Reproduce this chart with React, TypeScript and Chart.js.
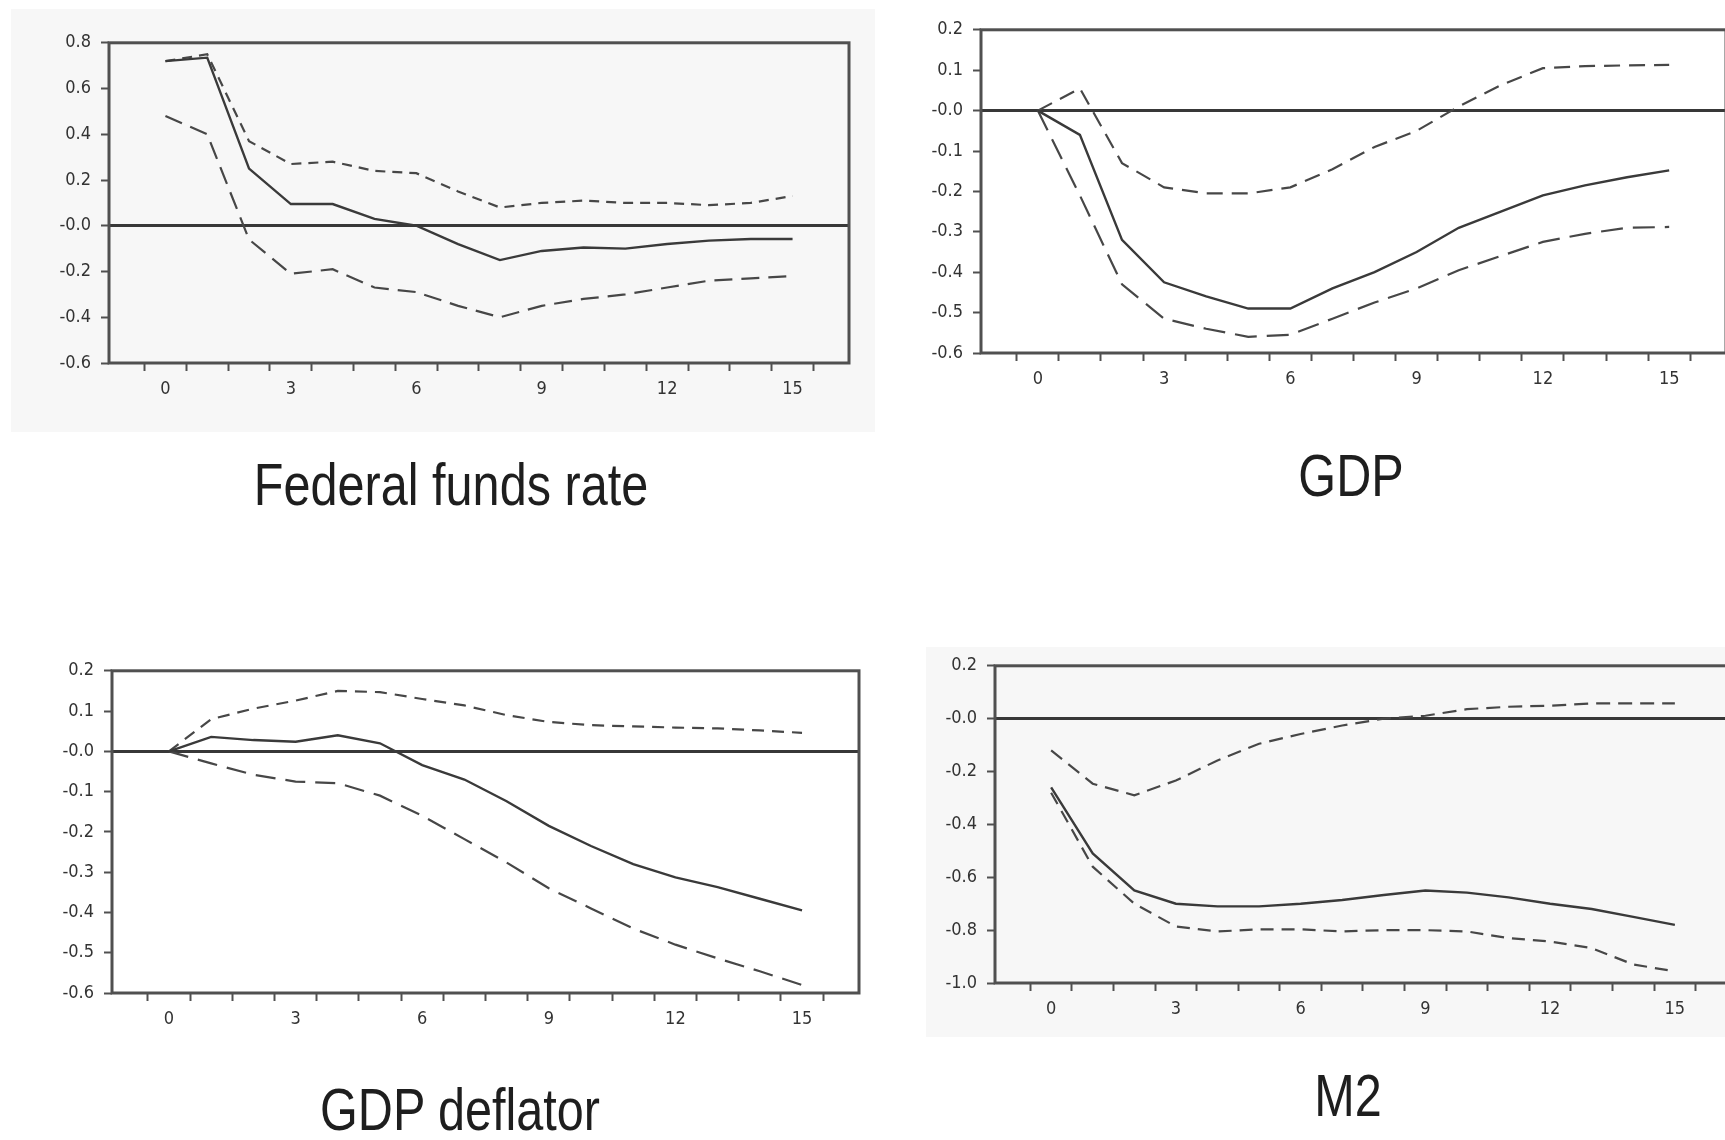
import React, { useEffect, useRef } from "react";
import { Chart, registerables } from "chart.js";

Chart.register(...registerables);

// ---------- data ----------
const periods = [0, 1, 2, 3, 4, 5, 6, 7, 8, 9, 10, 11, 12, 13, 14, 15];
const xLabelValues = [0, 3, 6, 9, 12, 15];

const fedResponse = [0.72, 0.735, 0.25, 0.095, 0.095, 0.03, 0.0, -0.08, -0.15, -0.11, -0.095, -0.1, -0.08, -0.065, -0.058, -0.058];
const fedUpper = [0.72, 0.75, 0.37, 0.27, 0.28, 0.24, 0.23, 0.15, 0.08, 0.1, 0.11, 0.1, 0.1, 0.09, 0.1, 0.13];
const fedLower = [0.48, 0.4, -0.06, -0.21, -0.19, -0.27, -0.29, -0.35, -0.4, -0.35, -0.32, -0.3, -0.27, -0.24, -0.23, -0.22];

const gdpResponse = [0, -0.06, -0.32, -0.425, -0.46, -0.49, -0.49, -0.44, -0.4, -0.35, -0.29, -0.25, -0.21, -0.185, -0.165, -0.148];
const gdpUpper = [0, 0.055, -0.13, -0.19, -0.205, -0.205, -0.19, -0.145, -0.09, -0.05, 0.01, 0.063, 0.105, 0.11, 0.112, 0.113];
const gdpLower = [0, -0.21, -0.43, -0.515, -0.54, -0.56, -0.555, -0.515, -0.475, -0.44, -0.395, -0.36, -0.325, -0.305, -0.29, -0.288];

const deflatorResponse = [0, 0.036, 0.028, 0.024, 0.04, 0.02, -0.034, -0.07, -0.124, -0.185, -0.235, -0.28, -0.313, -0.337, -0.366, -0.395];
const deflatorUpper = [0, 0.08, 0.106, 0.126, 0.15, 0.147, 0.13, 0.114, 0.09, 0.073, 0.065, 0.062, 0.059, 0.057, 0.052, 0.046];
const deflatorLower = [0, -0.03, -0.058, -0.075, -0.079, -0.11, -0.16, -0.218, -0.276, -0.34, -0.39, -0.44, -0.48, -0.514, -0.546, -0.58];

const m2Response = [-0.26, -0.51, -0.65, -0.7, -0.71, -0.71, -0.7, -0.686, -0.667, -0.65, -0.658, -0.676, -0.7, -0.72, -0.75, -0.78];
const m2Upper = [-0.12, -0.246, -0.29, -0.234, -0.158, -0.095, -0.058, -0.026, 0.0, 0.011, 0.036, 0.045, 0.049, 0.058, 0.058, 0.058];
const m2Lower = [-0.28, -0.56, -0.7, -0.786, -0.805, -0.797, -0.797, -0.805, -0.8, -0.8, -0.805, -0.83, -0.843, -0.868, -0.93, -0.956];

const titles = ["Federal funds rate", "GDP", "GDP deflator", "M2"];

// ---------- styling / layout ----------
const FONT = "'Liberation Sans Narrow', 'Arial Narrow', 'DejaVu Sans Condensed', 'Liberation Sans', Arial, sans-serif";
const AX_W = 70;
const AX_H = 50;
const PAD_T = 20;
const PAD_R = 20;
const X_MIN = -1.35;
const X_MAX = 16.35;

type PanelCfg = {
  frame: { left: number; top: number; right: number; bottom: number };
  yMin: number;
  yMax: number;
  yStep: number;
  response: number[];
  upper: number[];
  lower: number[];
  upperDash: number[];
  lowerDash: number[];
};

const panels: PanelCfg[] = [
  {
    frame: { left: 109, top: 42, right: 849, bottom: 363 },
    yMin: -0.6, yMax: 0.8, yStep: 0.2,
    response: fedResponse, upper: fedUpper, lower: fedLower,
    upperDash: [10, 7], lowerDash: [18, 9],
  },
  {
    frame: { left: 981, top: 29, right: 1726, bottom: 353 },
    yMin: -0.6, yMax: 0.2, yStep: 0.1,
    response: gdpResponse, upper: gdpUpper, lower: gdpLower,
    upperDash: [16, 9], lowerDash: [22, 10],
  },
  {
    frame: { left: 112, top: 670, right: 859, bottom: 993 },
    yMin: -0.6, yMax: 0.2, yStep: 0.1,
    response: deflatorResponse, upper: deflatorUpper, lower: deflatorLower,
    upperDash: [12, 8], lowerDash: [20, 10],
  },
  {
    frame: { left: 995, top: 665, right: 1731, bottom: 983 },
    yMin: -1.0, yMax: 0.2, yStep: 0.2,
    response: m2Response, upper: m2Upper, lower: m2Lower,
    upperDash: [14, 8], lowerDash: [13, 8],
  },
];

const titlePos = [
  { cx: 451, top: 455 },
  { cx: 1351, top: 446 },
  { cx: 460, top: 1080 },
  { cx: 1348, top: 1066 },
];

const framePlugin = {
  id: "frame",
  afterDraw(chart: any) {
    const { ctx, chartArea } = chart;
    ctx.save();
    ctx.strokeStyle = "#505050";
    ctx.lineWidth = 3;
    ctx.strokeRect(chartArea.left, chartArea.top, chartArea.right - chartArea.left, chartArea.bottom - chartArea.top);
    ctx.restore();
  },
};

const xTickValues = periods.flatMap((p) => [p - 0.5, p]).concat([periods[periods.length - 1] + 0.5]);

function Panel({ cfg }: { cfg: PanelCfg }) {
  const ref = useRef<HTMLCanvasElement | null>(null);
  const { frame } = cfg;
  const width = frame.right - frame.left + AX_W + PAD_R;
  const height = frame.bottom - frame.top + PAD_T + AX_H;

  useEffect(() => {
    if (!ref.current) return;
    const mk = (vals: number[]) => periods.map((p, i) => ({ x: p, y: vals[i] }));
    const chart = new Chart(ref.current, {
      type: "line",
      data: {
        datasets: [
          { data: mk(cfg.response), borderColor: "#3a3a3a", borderWidth: 2.4, pointRadius: 0, tension: 0, fill: false },
          { data: mk(cfg.upper), borderColor: "#474747", borderWidth: 2.2, borderDash: cfg.upperDash, pointRadius: 0, tension: 0, fill: false },
          { data: mk(cfg.lower), borderColor: "#474747", borderWidth: 2.2, borderDash: cfg.lowerDash, pointRadius: 0, tension: 0, fill: false },
        ],
      },
      options: {
        animation: false,
        responsive: false,
        devicePixelRatio: 1,
        plugins: { legend: { display: false }, tooltip: { enabled: false } },
        layout: { padding: { top: PAD_T, right: PAD_R, left: 0, bottom: 0 } },
        scales: {
          x: {
            type: "linear",
            min: X_MIN,
            max: X_MAX,
            afterBuildTicks: (s: any) => {
              s.ticks = xTickValues.map((v) => ({ value: v }));
            },
            afterFit: (s: any) => {
              s.height = AX_H;
            },
            border: { display: false },
            grid: {
              drawOnChartArea: false,
              drawTicks: true,
              tickLength: 8,
              tickWidth: 2,
              tickColor: (c: any) => (c.tick && Math.abs(c.tick.value % 1) === 0.5 ? "#505050" : "rgba(0,0,0,0)"),
            },
            ticks: {
              autoSkip: false,
              maxRotation: 0,
              minRotation: 0,
              padding: 8,
              color: "#333",
              font: { family: FONT, size: 18 },
              callback: (v: any) => (xLabelValues.includes(Number(v)) ? String(v) : ""),
            },
          },
          y: {
            type: "linear",
            min: cfg.yMin,
            max: cfg.yMax,
            afterFit: (s: any) => {
              s.width = AX_W;
            },
            border: { display: false },
            grid: {
              drawOnChartArea: true,
              drawTicks: true,
              tickLength: 8,
              tickWidth: 2,
              tickColor: "#505050",
              color: (c: any) => (c.tick && Math.abs(c.tick.value) < 1e-9 ? "#383838" : "rgba(0,0,0,0)"),
              lineWidth: (c: any) => (c.tick && Math.abs(c.tick.value) < 1e-9 ? 3 : 1),
            },
            ticks: {
              stepSize: cfg.yStep,
              padding: 10,
              color: "#333",
              font: { family: FONT, size: 18 },
              callback: (v: any) => {
                const r = Math.round(Number(v) * 10) / 10;
                return Math.abs(r) < 1e-9 ? "-0.0" : r.toFixed(1);
              },
            },
          },
        },
      } as any,
      plugins: [framePlugin],
    });
    return () => chart.destroy();
  }, [cfg]);

  return (
    <canvas
      ref={ref}
      width={width}
      height={height}
      style={{
        position: "absolute",
        left: frame.left - AX_W,
        top: frame.top - PAD_T,
        width,
        height,
      }}
    />
  );
}

export default function App() {
  return (
    <div
      style={{
        position: "fixed",
        left: 0,
        top: 0,
        width: 1725,
        height: 1140,
        overflow: "hidden",
        background: "#ffffff",
      }}
    >
      <div style={{ position: "absolute", left: 11, top: 9, width: 864, height: 423, background: "#f7f7f7" }} />
      <div style={{ position: "absolute", left: 926, top: 647, width: 820, height: 390, background: "#f7f7f7" }} />
      {panels.map((p, i) => (
        <Panel key={i} cfg={p} />
      ))}
      {titles.map((t, i) => (
        <div
          key={"t" + i}
          style={{
            position: "absolute",
            left: titlePos[i].cx,
            top: titlePos[i].top,
            fontFamily: "'Liberation Sans', Arial, sans-serif",
            fontSize: 60,
            lineHeight: "60px",
            color: "#1e1e1e",
            whiteSpace: "nowrap",
            transform: "translateX(-50%) scaleX(0.81)",
          }}
        >
          {t}
        </div>
      ))}
    </div>
  );
}
